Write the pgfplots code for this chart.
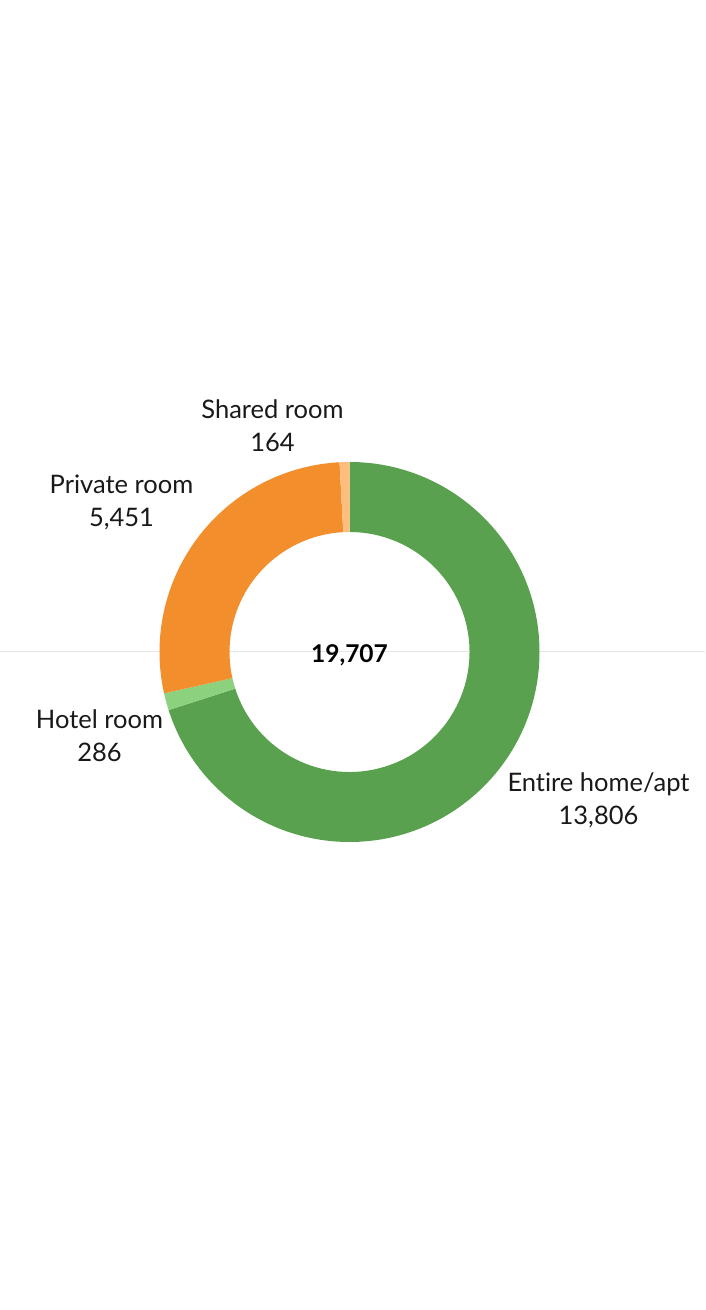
\documentclass[border=0pt]{standalone}
\usepackage{pgfplots}
\usepackage{pgfplotstable}
\usepackage{fontspec}
\setmainfont{Lato}[Ligatures={NoCommon}]
\pgfplotsset{compat=1.18}
\definecolor{cEntire}{HTML}{59A14F}
\definecolor{cHotel}{HTML}{8CD17D}
\definecolor{cPrivate}{HTML}{F28E2B}
\definecolor{cShared}{HTML}{FFBE7D}
\definecolor{gridgray}{HTML}{E6E6E6}
\pgfplotstableread[col sep=comma]{
label,value
Entire home/apt,13806
Hotel room,286
Private room,5451
Shared room,164
}\donutdata
\begin{document}
\begin{tikzpicture}
\begin{axis}[
  width=704pt, height=1310pt, scale only axis,
  xmin=0, xmax=704, ymin=0, ymax=1310,
  axis line style={draw=none}, tick style={draw=none},
  xtick=\empty, ytick=\empty, clip=false,
]
% light horizontal reference line through centre
\addplot[draw=gridgray, line width=1pt] coordinates {(0,658) (704,658)};
\pgfplotstablegetelem{0}{value}\of\donutdata \let\vA\pgfplotsretval
\pgfplotstablegetelem{1}{value}\of\donutdata \let\vB\pgfplotsretval
\pgfplotstablegetelem{2}{value}\of\donutdata \let\vC\pgfplotsretval
\pgfplotstablegetelem{3}{value}\of\donutdata \let\vD\pgfplotsretval
\pgfmathsetmacro{\tot}{\vA/1000+\vB/1000+\vC/1000+\vD/1000}
\pgfmathsetmacro{\aA}{90}
\pgfmathsetmacro{\aB}{90-\vA/1000/\tot*360}
\pgfmathsetmacro{\aC}{\aB-\vB/1000/\tot*360}
\pgfmathsetmacro{\aD}{\aC-\vC/1000/\tot*360}
\pgfmathsetmacro{\aE}{-270}
\def\Ro{190pt}\def\Ri{120pt}
\fill[cEntire] (axis cs:349,658) ++(\aA:\Ro) arc[start angle=\aA,end angle=\aB,radius=\Ro] -- ++(\aB:-70pt) arc[start angle=\aB,end angle=\aA,radius=\Ri] -- cycle;
\fill[cHotel] (axis cs:349,658) ++(\aB:\Ro) arc[start angle=\aB,end angle=\aC,radius=\Ro] -- ++(\aC:-70pt) arc[start angle=\aC,end angle=\aB,radius=\Ri] -- cycle;
\fill[cPrivate] (axis cs:349,658) ++(\aC:\Ro) arc[start angle=\aC,end angle=\aD,radius=\Ro] -- ++(\aD:-70pt) arc[start angle=\aD,end angle=\aC,radius=\Ri] -- cycle;
\fill[cShared] (axis cs:349,658) ++(\aD:\Ro) arc[start angle=\aD,end angle=\aE,radius=\Ro] -- ++(\aE:-70pt) arc[start angle=\aE,end angle=\aD,radius=\Ri] -- cycle;
% labels
\node[align=center, font=\fontsize{25.5}{33}\selectfont, text=black!90] at (axis cs:272,884) {Shared room\\164};
\node[align=center, font=\fontsize{25.5}{33}\selectfont, text=black!90] at (axis cs:121,808) {Private room\\5,451};
\node[align=center, font=\fontsize{25.5}{33}\selectfont, text=black!90] at (axis cs:99,574) {Hotel room\\286};
\node[align=center, font=\fontsize{25.5}{33}\selectfont, text=black!90] at (axis cs:598,510) {Entire home/apt\\13,806};
\node[font=\fontsize{24.5}{28}\selectfont\bfseries] at (axis cs:349,655) {19,707};
\end{axis}
\end{tikzpicture}
\end{document}
